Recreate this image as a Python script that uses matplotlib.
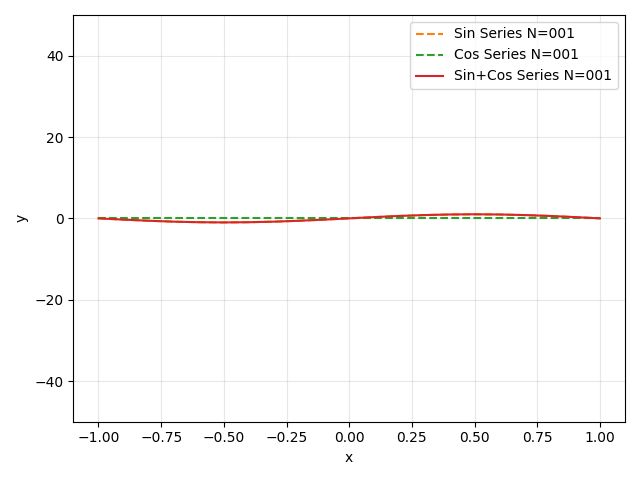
import matplotlib
matplotlib.use("Agg")
import matplotlib.pyplot as plt

x_vals = [-1.0, -0.9, -0.8, -0.7, -0.6, -0.5, -0.4, -0.3, -0.2, -0.1, 0.0,
          0.1, 0.2, 0.3, 0.4, 0.5, 0.6, 0.7, 0.8, 0.9, 1.0]
sin_vals = [0.0, -0.31, -0.59, -0.81, -0.95, -1.0, -0.95, -0.81, -0.59, -0.31, 0.0,
            0.31, 0.59, 0.81, 0.95, 1.0, 0.95, 0.81, 0.59, 0.31, 0.0]
cos_vals = [0.0] * 21
sum_vals = [s + c for s, c in zip(sin_vals, cos_vals)]

fig, ax = plt.subplots(figsize=(6.4, 4.8), dpi=100)
ax.plot(x_vals, sin_vals, '--', color='tab:orange', label='Sin Series N=001')
ax.plot(x_vals, cos_vals, '--', color='tab:green', label='Cos Series N=001')
ax.plot(x_vals, sum_vals, '-', color='tab:red', label='Sin+Cos Series N=001')
ax.set_ylim(-50, 50)
ax.set_xlabel('x')
ax.set_ylabel('y')
ax.grid(True, alpha=0.3)
ax.legend(loc='upper right')
fig.tight_layout()
fig.savefig('out.png')
